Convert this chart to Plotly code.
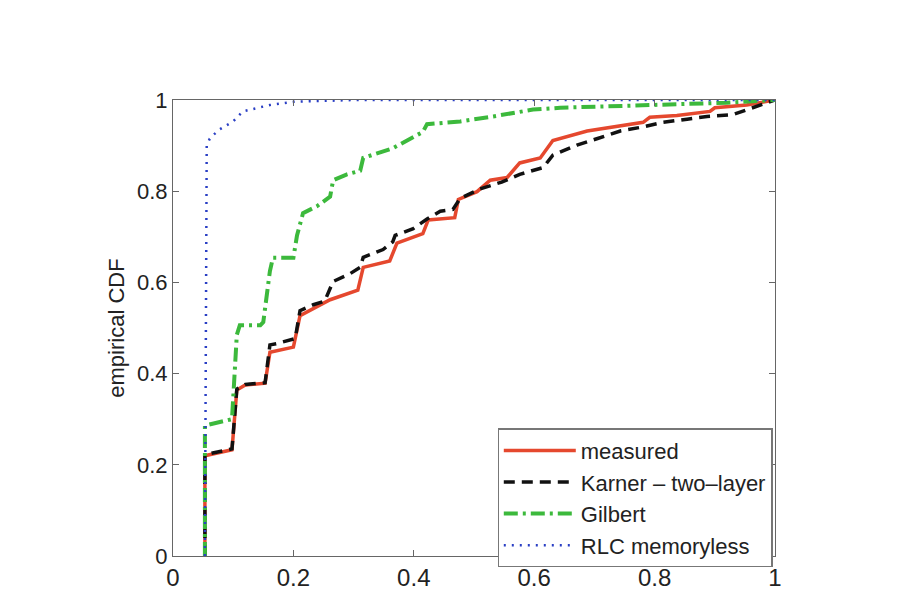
import plotly.graph_objects as go

# ---- data ----
measured_x = [0.053, 0.053, 0.098, 0.106, 0.120, 0.153, 0.161, 0.200, 0.211, 0.261, 0.307, 0.316,
              0.360, 0.372, 0.415, 0.424, 0.468, 0.474, 0.505, 0.527, 0.555, 0.576, 0.610, 0.631,
              0.688, 0.731, 0.781, 0.792, 0.837, 0.892, 0.900, 0.953, 1.000]
measured_y = [0.0, 0.220, 0.233, 0.364, 0.375, 0.379, 0.447, 0.458, 0.527, 0.562, 0.583, 0.633,
              0.647, 0.686, 0.707, 0.737, 0.742, 0.782, 0.799, 0.824, 0.830, 0.862, 0.873, 0.911,
              0.932, 0.940, 0.951, 0.962, 0.966, 0.975, 0.983, 0.989, 1.0]

karner_x = [0.053, 0.053, 0.098, 0.106, 0.120, 0.153, 0.161, 0.173, 0.203, 0.211, 0.233, 0.252,
            0.266, 0.294, 0.311, 0.316, 0.349, 0.365, 0.369, 0.399, 0.422, 0.444, 0.465, 0.477,
            0.510, 0.546, 0.576, 0.615, 0.631, 0.671, 0.704, 0.743, 0.781, 0.814, 0.854, 0.887,
            0.930, 0.963, 1.000]
karner_y = [0.0, 0.222, 0.235, 0.366, 0.376, 0.380, 0.463, 0.466, 0.477, 0.538, 0.551, 0.559,
            0.602, 0.619, 0.633, 0.655, 0.672, 0.689, 0.703, 0.718, 0.739, 0.756, 0.760, 0.784,
            0.805, 0.820, 0.837, 0.852, 0.879, 0.901, 0.915, 0.932, 0.941, 0.951, 0.958, 0.964,
            0.968, 0.983, 1.0]

gilbert_x = [0.053, 0.053, 0.098, 0.106, 0.111, 0.145, 0.150, 0.161, 0.166, 0.200, 0.206, 0.216,
             0.239, 0.261, 0.266, 0.289, 0.311, 0.316, 0.365, 0.394, 0.415, 0.422, 0.477, 0.532,
             0.598, 0.643, 0.698, 0.809, 0.920, 1.000]
gilbert_y = [0.0, 0.286, 0.300, 0.485, 0.506, 0.506, 0.513, 0.625, 0.654, 0.654, 0.703, 0.752,
             0.767, 0.788, 0.824, 0.837, 0.845, 0.873, 0.894, 0.915, 0.930, 0.947, 0.953, 0.964,
             0.979, 0.983, 0.985, 0.989, 0.994, 1.0]

rlc_x = [0.053, 0.056, 0.061, 0.065, 0.078, 0.100, 0.116, 0.128, 0.161, 0.200, 0.300, 1.000]
rlc_y = [0.0, 0.900, 0.915, 0.921, 0.936, 0.953, 0.975, 0.979, 0.989, 0.996, 1.0, 1.0]

x_ticks = [0, 0.2, 0.4, 0.6, 0.8, 1]
x_tick_labels = ["0", "0.2", "0.4", "0.6", "0.8", "1"]
y_ticks = [0, 0.2, 0.4, 0.6, 0.8, 1]
y_tick_labels = ["0", "0.2", "0.4", "0.6", "0.8", "1"]

FONT = "Liberation Sans, Arial, sans-serif"

fig = go.Figure()
fig.add_trace(go.Scatter(x=measured_x, y=measured_y, mode="lines", name="measured",
                         line=dict(color="#e5482e", width=3.5)))
fig.add_trace(go.Scatter(x=karner_x, y=karner_y, mode="lines", name="Karner – two–layer",
                         line=dict(color="#111111", width=3.5, dash="11px,7px")))
fig.add_trace(go.Scatter(x=gilbert_x, y=gilbert_y, mode="lines", name="Gilbert",
                         line=dict(color="#3cb93c", width=4, dash="14px,5px,3px,5px")))
fig.add_trace(go.Scatter(x=rlc_x, y=rlc_y, mode="lines", name="RLC memoryless",
                         line=dict(color="#2a3fc4", width=2.5, dash="2px,6px")))

axis_common = dict(showline=True, linecolor="#666666", linewidth=1.2, mirror="ticks",
                   ticks="inside", ticklen=6, tickcolor="#666666", showgrid=False,
                   zeroline=False)

fig.update_layout(
    width=902, height=603,
    margin=dict(l=173, r=127, t=100, b=31),
    paper_bgcolor="white", plot_bgcolor="white",
    font=dict(family=FONT, color="#222222"),
    xaxis=dict(range=[0, 1], tickvals=x_ticks, ticktext=x_tick_labels,
               tickfont=dict(size=24, family=FONT, color="#222222"), **axis_common),
    yaxis=dict(range=[0, 1], tickvals=y_ticks, ticktext=y_tick_labels,
               tickfont=dict(size=22, family=FONT, color="#222222"),
               title=dict(text="empirical CDF", font=dict(size=22, family=FONT, color="#222222"),
                          standoff=6),
               **axis_common),
    legend=dict(x=0.996, y=-0.025, xanchor="right", yanchor="bottom",
                bgcolor="white", bordercolor="#777777", borderwidth=1.2,
                font=dict(size=22, family=FONT, color="#222222"),
                tracegroupgap=0, itemwidth=72),
    showlegend=True,
)

fig.write_html("out.html")
